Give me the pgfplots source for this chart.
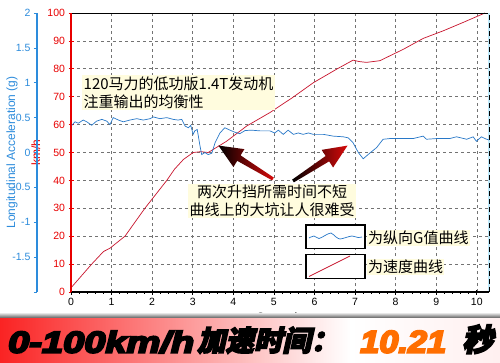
\documentclass[border=0pt]{standalone}
\usepackage{pgfplots}
\pgfplotsset{compat=1.18}
\usepackage{pgfplotstable}
\usepackage{fontspec}
\setmainfont{Liberation Sans}
\newfontfamily\lab{Liberation Sans}
\newfontfamily\cjk{Noto Sans CJK SC}
\newfontfamily\cjkban[FakeSlant=0.22,FakeBold=5]{Noto Sans CJK SC}
\newfontfamily\banlat[FakeBold=6]{Liberation Sans}
\definecolor{spd}{RGB}{200,20,45}
\definecolor{gcol}{RGB}{40,120,200}
\definecolor{redax}{RGB}{232,0,0}
\definecolor{blueax}{RGB}{45,140,220}
\definecolor{cream}{RGB}{255,252,222}
\definecolor{orng}{RGB}{255,110,0}
\definecolor{bnred}{RGB}{250,35,35}
\definecolor{arred}{RGB}{215,10,10}

\pgfplotstableread{
t v
0 1.5
0.51 10
0.8 14.5
0.96 15.7
1.33 20
1.82 30
2.36 40
2.55 44
2.77 47.5
3.01 50
3.2 50.3
3.38 50
3.83 54
4.33 59.5
4.9 64.3
5.45 69.6
5.97 75
6.55 79.9
6.95 83.1
7.1 82.6
7.28 82.3
7.61 82.9
7.78 84.1
8.19 87
8.68 90.9
9.17 93.6
9.66 96.6
10.2 100
}\speed

\pgfplotstableread{
t g
0.02 0.39
0.10 0.44
0.18 0.42
0.30 0.465
0.39 0.44
0.51 0.39
0.63 0.45
0.76 0.475
0.88 0.45
0.96 0.40
1.04 0.50
1.17 0.465
1.29 0.44
1.45 0.465
1.62 0.485
1.78 0.465
1.95 0.485
2.03 0.51
2.19 0.485
2.36 0.50
2.52 0.475
2.64 0.465
2.73 0.475
2.81 0.38
2.89 0.355
2.95 0.39
3.01 0.26
3.05 0.31
3.11 0.33
3.18 0.09
3.22 -0.03
3.30 0.00
3.38 -0.03
3.47 -0.01
3.55 0.14
3.67 0.28
3.79 0.355
3.92 0.32
4.04 0.29
4.16 0.27
4.29 0.315
4.45 0.32
4.66 0.31
4.90 0.31
5.02 0.28
5.11 0.32
5.23 0.26
5.35 0.32
5.48 0.26
5.60 0.28
5.72 0.26
5.85 0.28
5.97 0.26
6.22 0.26
6.46 0.235
6.71 0.225
6.83 0.21
6.95 0.14
7.08 0.00
7.20 -0.09
7.36 -0.01
7.53 0.07
7.69 0.19
7.86 0.20
8.19 0.20
8.43 0.20
8.68 0.235
8.76 0.19
9.01 0.20
9.33 0.20
9.50 0.225
9.75 0.19
9.91 0.225
9.99 0.16
10.11 0.225
10.24 0.19
10.30 0.18
}\gval

\begin{document}
\begin{tikzpicture}[x=1pt,y=1pt]
\useasboundingbox (0,0) rectangle (500,362);
\fill[white] (0,0) rectangle (500,362);

% main speed axis
\begin{axis}[
  at={(71pt,70pt)}, anchor=south west,
  scale only axis, width=418pt, height=279pt,
  xmin=0, xmax=10.3, ymin=0, ymax=100,
  xtick={0,1,...,10}, ytick={0,10,...,100},
  minor x tick num=4,
  xtick pos=bottom, ytick pos=left,
  tick align=center,
  major tick length=5pt, minor tick length=3pt,
  grid=major,
  major grid style={dash pattern=on 3pt off 3pt, black!55, line width=0.6pt},
  axis line style={draw=none},
  x tick style={black, line width=0.7pt},
  y tick style={redax, line width=0.7pt},
  /pgf/number format/assume math mode=true,
  tick label style={font=\fontsize{10.5}{12}\selectfont},
  yticklabel style={text=redax},
  xticklabel style={text=black},
  xlabel={Seconds},
  xlabel style={font=\lab\fontsize{12}{14}\selectfont},
  ylabel={km/h},
  ylabel style={at={(axis description cs:-0.084,0.5)}, anchor=center, text=redax, font=\lab\fontsize{12}{14}\selectfont},
  clip=false,
]
\addplot[spd, line width=0.7pt] table[x=t, y=v] {\speed};
\draw[black, line width=0.8pt] (rel axis cs:0,1) -- (rel axis cs:1,1);
\draw[cyan!25, line width=2pt] (rel axis cs:1,0) -- (rel axis cs:1,1);
\draw[black, line width=1pt, dash pattern=on 5pt off 3pt] (rel axis cs:1,0) -- (rel axis cs:1,1);
\draw[black, line width=2.2pt] (rel axis cs:0,0) -- (rel axis cs:1,0);
\draw[redax, line width=2.6pt] (rel axis cs:0,0) -- (rel axis cs:0,1);
\end{axis}

% longitudinal acceleration axis
\begin{axis}[
  at={(71pt,70pt)}, anchor=south west,
  scale only axis, width=418pt, height=279pt,
  xmin=0, xmax=10.3, ymin=-2, ymax=2,
  hide x axis,
  axis y line*=left,
  axis y line shift=34pt,
  y axis line style={-, blueax, line width=2.2pt},
  ytick={-2,-1.5,...,2},
  yticklabels={,-1.5,-1,-0.5,0,0.5,1,1.5,2},
  tick align=outside, major tick length=3pt,
  y tick style={blueax, line width=0.7pt},
  /pgf/number format/assume math mode=true,
  tick label style={font=\fontsize{10.5}{12}\selectfont},
  yticklabel style={text=blueax},
  ylabel={Longitudinal Acceleration (g)},
  ylabel style={at={(axis description cs:-0.141,0.5)}, anchor=center, text=blueax, font=\lab\fontsize{12}{14}\selectfont},
  clip=false,
]
\addplot[gcol, line width=0.7pt] table[x=t, y=g] {\gval};
\end{axis}

% annotations
\node[anchor=west, fill=cream, inner sep=1.5pt, align=left, font=\cjk\fontsize{15}{18}\selectfont] at (82,269.5)
  {120马力的低功版1.4T发动机\\注重输出的均衡性};
\node[anchor=center, fill=cream, inner sep=1.5pt, align=center, font=\cjk\fontsize{15}{18}\selectfont] at (272,161)
  {两次升挡所需时间不短\\曲线上的大坑让人很难受};

% arrows
\begin{scope}[shift={(273,183)}, rotate=148.5]
\shade[left color=black, right color=arred]
  (0,-1.6) -- (40,-3.2) -- (40,-10.5) -- (64,0) -- (40,10.5) -- (40,3.2) -- (0,1.6) -- cycle;
\end{scope}
\begin{scope}[shift={(293,181)}, rotate=33]
\shade[left color=black, right color=arred]
  (0,-1.6) -- (41,-3.2) -- (41,-10.5) -- (65,0) -- (41,10.5) -- (41,3.2) -- (0,1.6) -- cycle;
\end{scope}

% legend
\draw[black, line width=1.4pt, fill=white] (306,113.7) rectangle (365,137);
\draw[black, line width=1.4pt, fill=white] (306,83.7) rectangle (365,107.7);
\draw[gcol, line width=0.7pt] plot[smooth] coordinates {(309,124) (314,126) (319,123.5) (325,126.5) (331,129) (336,125) (340,123) (346,124.5) (352,126) (358,124.5) (362,125)};
\draw[spd, line width=0.7pt] (309,85.5) -- (330,96) -- (350,106);
\node[anchor=west, fill=cream, inner sep=1pt, font=\cjk\fontsize{15}{18}\selectfont] at (367,124.3) {为纵向G值曲线};
\node[anchor=west, fill=cream, inner sep=1pt, font=\cjk\fontsize{15}{18}\selectfont] at (367,95.3) {为速度曲线};

% banner
\shade[top color=black!15, bottom color=black!75] (0,43) rectangle (500,48.5);
\fill[white] (0,0) rectangle (500,43.5);
\shade[left color=bnred, right color=white] (0,0) rectangle (350,43.5);
\shade[left color=white, right color=red!6] (350,0) rectangle (500,43.5);
\node[anchor=base west, inner sep=0] at (8,9.3)
  {\resizebox{186pt}{22pt}{\banlat\bfseries\itshape 0-100km/h}};
\node[anchor=base west, inner sep=0] at (197,11)
  {\resizebox{142pt}{!}{\cjkban\bfseries\fontsize{29}{30}\selectfont 加速时间：}};
\node[anchor=base west, inner sep=0] at (360,9.3)
  {\color{orng}\resizebox{86pt}{22pt}{\banlat\bfseries\itshape 10.21}};
\node[anchor=base west, inner sep=0] at (462,11)
  {\cjkban\bfseries\fontsize{31}{32}\selectfont 秒};
\end{tikzpicture}
\end{document}
